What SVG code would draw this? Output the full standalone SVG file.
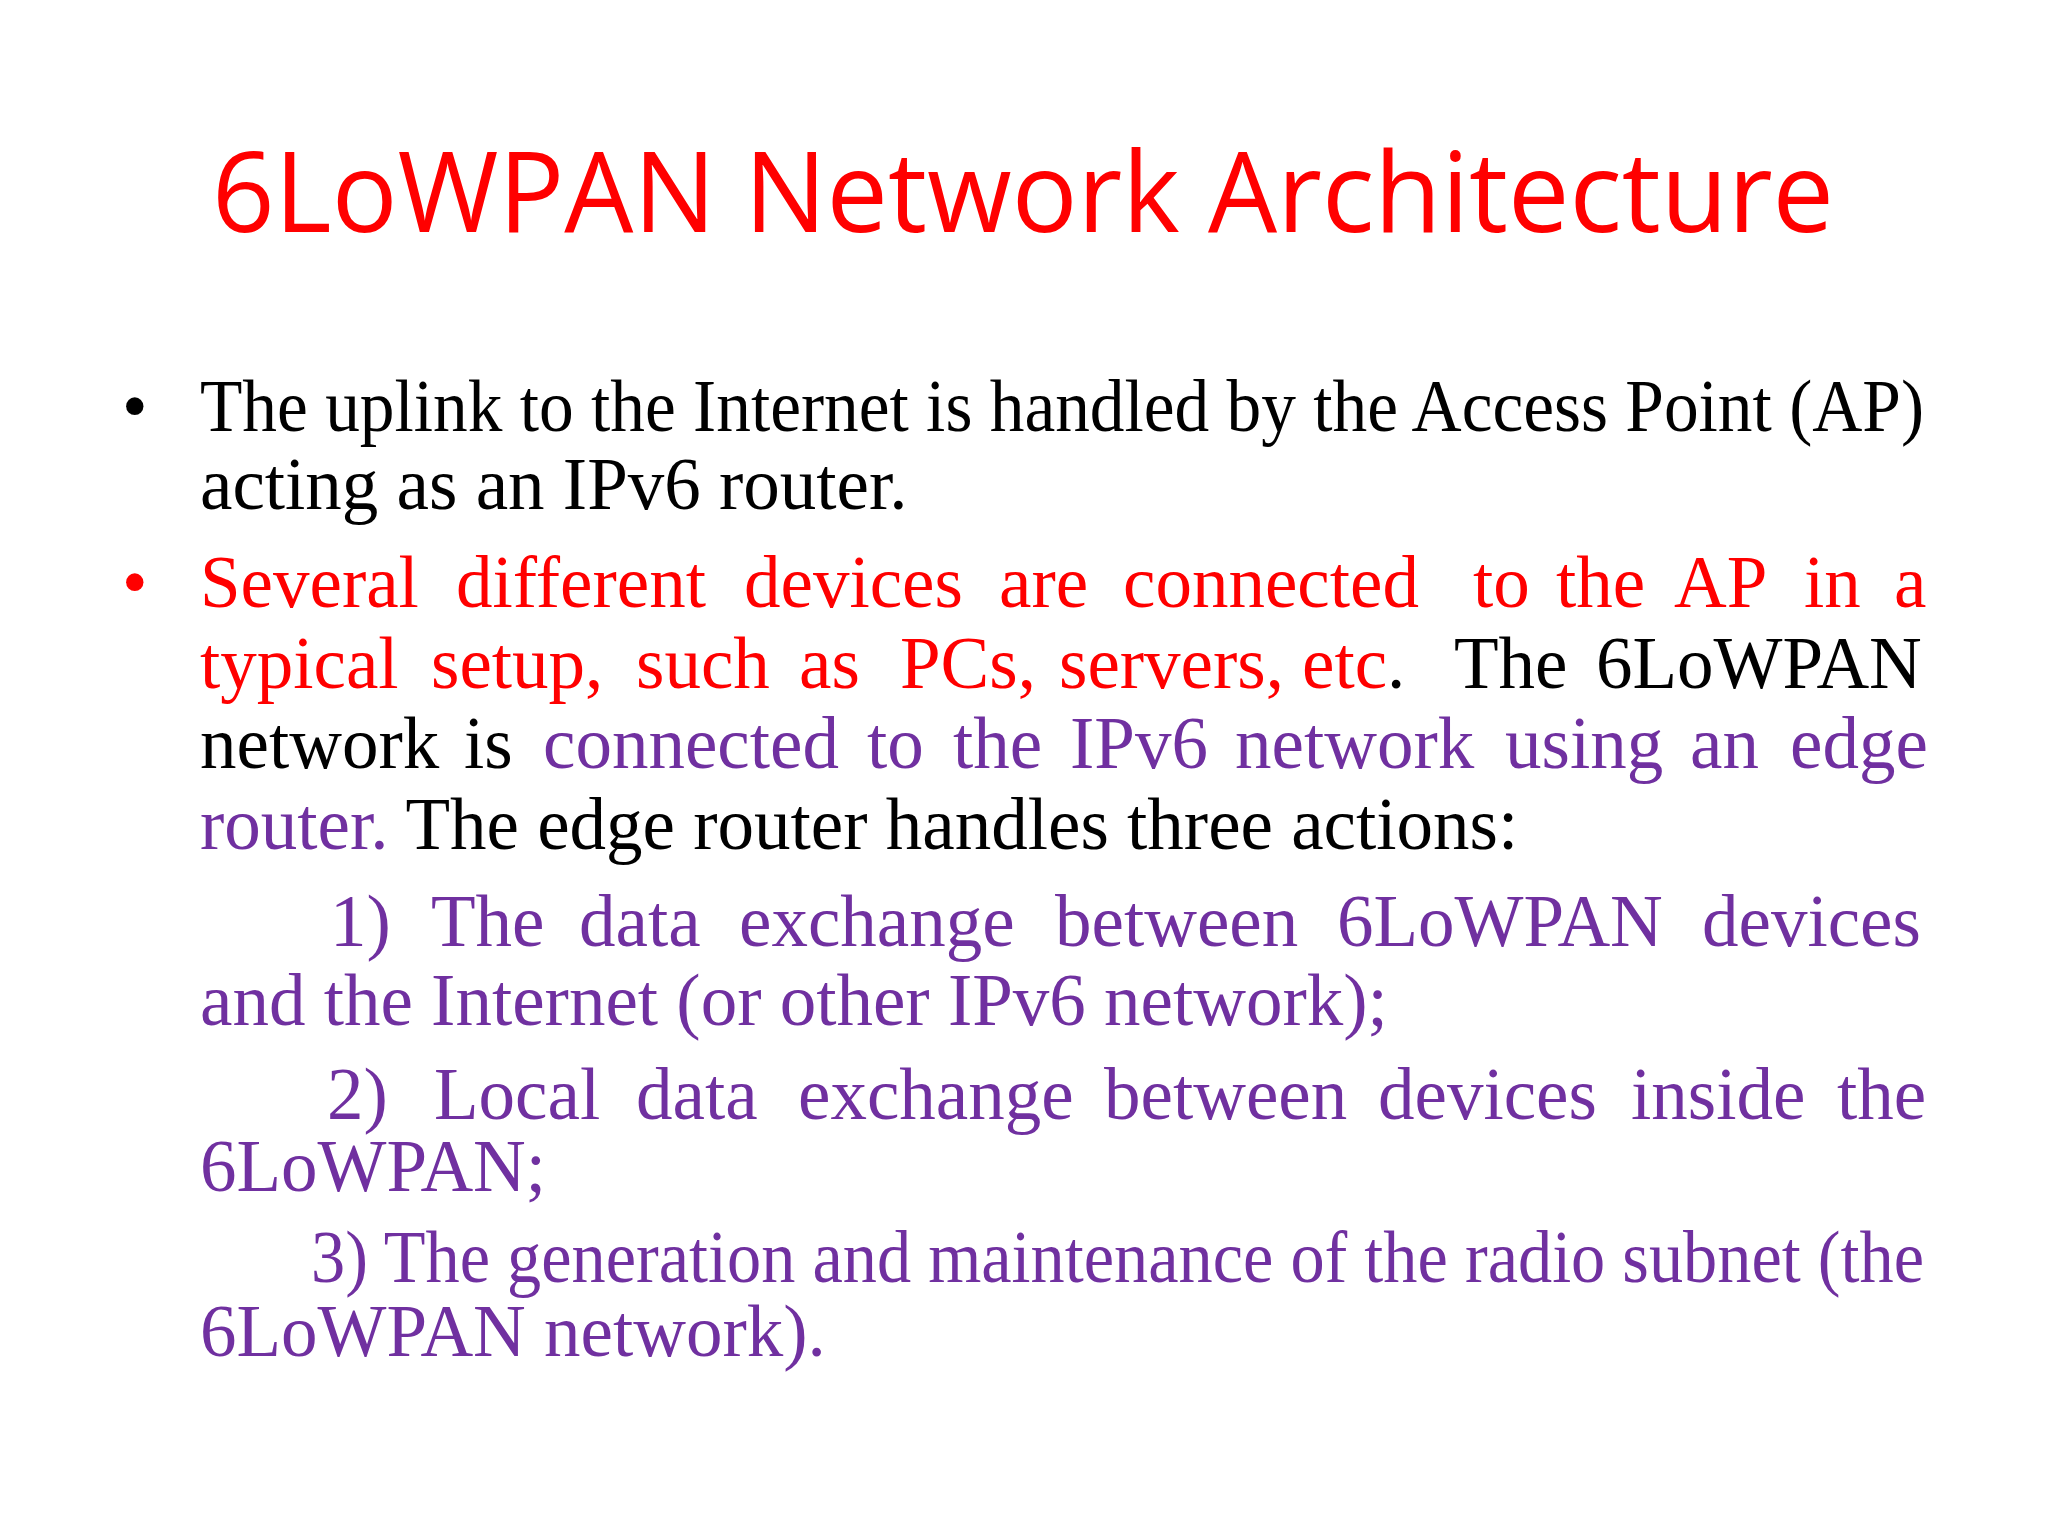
<svg xmlns="http://www.w3.org/2000/svg" width="2048" height="1536" viewBox="0 0 2048 1536">
<style>
.b{font-family:"Liberation Serif","Times New Roman",serif;font-size:73px;fill:#000}
.r{fill:#ff0000}.p{fill:#7030a0}.k{fill:#000}
.t{font-family:"Open Sans","Liberation Sans",sans-serif;font-size:112px;fill:#ff0000}
</style>
<rect width="2048" height="1536" fill="#fff"/>
<text class="t" x="1023" y="232" text-anchor="middle" textLength="1622" lengthAdjust="spacingAndGlyphs">6LoWPAN Network Architecture</text>
<text class="b" x="122" y="431">•</text>
<text class="b r" x="122" y="607">•</text>
<text class="b" x="200" y="431" textLength="1724" lengthAdjust="spacingAndGlyphs">The uplink to the Internet is handled by the Access Point (AP)</text>
<text class="b" x="200" y="509">acting as an IPv6 router.</text>
<text class="b r" y="607"><tspan x="200">Several</tspan><tspan x="456">different</tspan><tspan x="744">devices</tspan><tspan x="999">are</tspan><tspan x="1123">connected</tspan><tspan x="1473">to</tspan><tspan x="1556">the</tspan><tspan x="1674">AP</tspan><tspan x="1804">in</tspan><tspan x="1894">a</tspan></text>
<text class="b r" y="688"><tspan x="200">typical</tspan><tspan x="431">setup,</tspan><tspan x="636">such</tspan><tspan x="799">as</tspan><tspan x="900">PCs,</tspan><tspan x="1059">servers,</tspan><tspan x="1302">etc</tspan><tspan class="k">.</tspan><tspan class="k" x="1454">The</tspan><tspan class="k" x="1596">6LoWPAN</tspan></text>
<text class="b p" y="768"><tspan class="k" x="200">network</tspan><tspan class="k" x="464">is</tspan><tspan x="543">connected</tspan><tspan x="867">to</tspan><tspan x="953">the</tspan><tspan x="1070">IPv6</tspan><tspan x="1235">network</tspan><tspan x="1505">using</tspan><tspan x="1690">an</tspan><tspan x="1790">edge</tspan></text>
<text class="b" x="200" y="849"><tspan class="p">router.</tspan> The edge router handles three actions:</text>
<text class="b p" y="946"><tspan x="330">1)</tspan><tspan x="431">The</tspan><tspan x="579">data</tspan><tspan x="739">exchange</tspan><tspan x="1055">between</tspan><tspan x="1337">6LoWPAN</tspan><tspan x="1702">devices</tspan></text>
<text class="b p" x="200" y="1025">and the Internet (or other IPv6 network);</text>
<text class="b p" y="1119"><tspan x="327">2)</tspan><tspan x="434">Local</tspan><tspan x="636">data</tspan><tspan x="798">exchange</tspan><tspan x="1104">between</tspan><tspan x="1378">devices</tspan><tspan x="1631">inside</tspan><tspan x="1837">the</tspan></text>
<text class="b p" x="200" y="1191">6LoWPAN;</text>
<text class="b p" x="311" y="1282" textLength="1613" lengthAdjust="spacingAndGlyphs">3) The generation and maintenance of the radio subnet (the</text>
<text class="b p" x="200" y="1356">6LoWPAN network).</text>
</svg>
